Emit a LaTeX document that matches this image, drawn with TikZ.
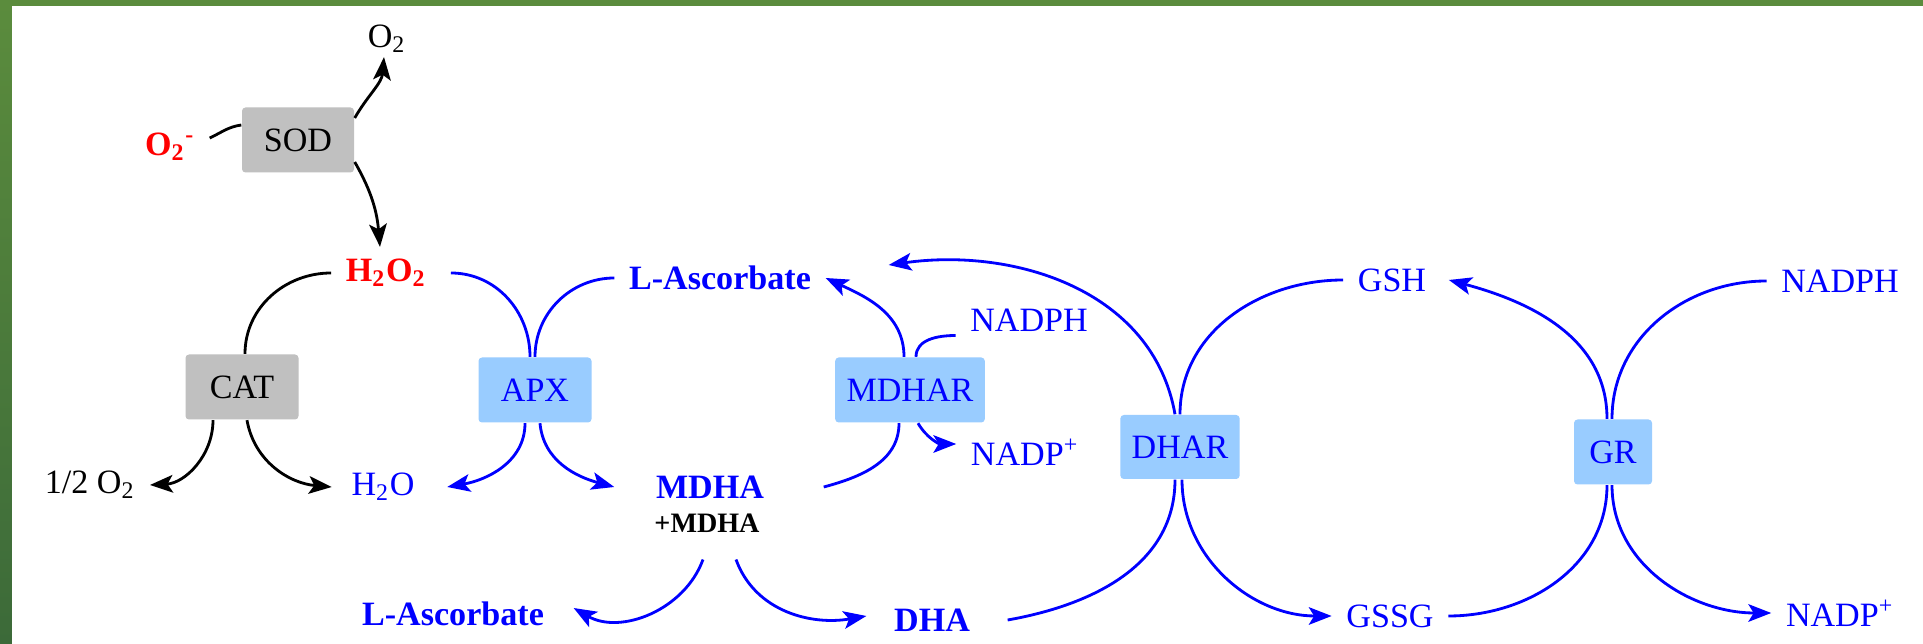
\documentclass[tikz,border=0pt]{standalone}
\usepackage{fontspec}
\setmainfont{Liberation Serif}
\usetikzlibrary{arrows.meta}
\definecolor{leafgreen}{RGB}{91,140,61}
\definecolor{leafdark}{RGB}{60,106,57}
\definecolor{enzblue}{RGB}{153,204,255}
\definecolor{enzgrey}{RGB}{192,192,192}

\begin{document}
\begin{tikzpicture}[
  met/.style={inner xsep=4pt, inner ysep=1pt},
  grbox/.style={fill=enzgrey, rounded corners=1pt, minimum width=1.12cm, minimum height=0.65cm, text=black},
  blbox/.style={fill=enzblue, rounded corners=1pt, minimum height=0.65cm, text=blue},
  rx/.style={line width=0.8pt},
  prod/.style={rx, -{Stealth[length=6.5pt,width=5pt,inset=1.5pt]}},
]
\fontsize{9.7}{11.6}\selectfont
\fill[white] (0,0) rectangle (19.23,6.44);
\useasboundingbox (0,0) rectangle (19.23,6.44);
% frame
\fill[leafgreen] (0,6.38) rectangle (19.23,6.44);
\shade[top color=leafgreen, bottom color=leafdark] (0,0) rectangle (0.12,6.44);

% enzymes
\node[grbox] (sod) at (2.98,5.04) {SOD};
\node[grbox,minimum width=1.13cm] (cat) at (2.42,2.57) {CAT};
\node[blbox,minimum width=1.13cm] (apx) at (5.35,2.54) {APX};
\node[blbox,minimum width=1.49cm] (mdhar) at (9.10,2.54) {MDHAR};
\node[blbox,minimum width=1.13cm,minimum height=0.64cm] (dhar) at (11.80,1.97) {DHAR};
\node[blbox,minimum width=0.78cm] (gr) at (16.13,1.92) {GR};

% metabolites
\node[met] (o2top) at (3.87,6.05) {O\textsubscript{2}};
\node[met,text=red,font=\bfseries] (o2m) at (1.70,4.97) {O\textsubscript{2}\textsuperscript{-}};
\node[met,text=red,font=\bfseries] (h2o2) at (3.86,3.71) {H\textsubscript{2}O\textsubscript{2}};
\node[met] (halfo2) at (0.90,1.59) {1/2 O\textsubscript{2}};
\node[met,text=blue] (h2o) at (3.83,1.57) {H\textsubscript{2}O};
\node[met,text=blue,font=\bfseries] (asc) at (7.20,3.66) {L-Ascorbate};
\node[met,text=blue,font=\bfseries] (mdha) at (7.10,1.57) {MDHA};
\node[met,font=\fontsize{8}{9.6}\selectfont\bfseries] (mdhb) at (7.07,1.21) {+MDHA};
\node[met,text=blue,font=\bfseries] (ascb) at (4.53,0.30) {L-Ascorbate};
\node[met,text=blue,font=\bfseries] (dha) at (9.32,0.24) {DHA};
\node[met,text=blue] (nadph) at (10.29,3.24) {NADPH};
\node[met,text=blue] (nadp) at (10.25,1.92) {NADP\textsuperscript{+}};
\node[met,text=blue] (gsh) at (13.92,3.64) {GSH};
\node[met,text=blue] (gssg) at (13.90,0.28) {GSSG};
\node[met,text=blue] (nadphr) at (18.40,3.63) {NADPH};
\node[met,text=blue] (nadpr) at (18.40,0.31) {NADP\textsuperscript{+}};
\coordinate (ascin) at ([xshift=0.63cm,yshift=0.13cm]asc.east);

% SOD
\draw[rx] ([yshift=0.09cm]o2m.east) to[out=25,in=188] ([yshift=0.15cm]sod.west);
\draw[prod] ([yshift=0.22cm]sod.east) to[out=60,in=-95] ([xshift=-0.03cm]o2top.south);
\draw[prod] ([yshift=-0.22cm]sod.east) to[out=-60,in=95] ([xshift=-0.06cm,yshift=0.08cm]h2o2.north);

% CAT
\draw[rx] (h2o2.west) to[out=180,in=90] ([xshift=0.03cm]cat.north);
\draw[prod] ([xshift=-0.29cm]cat.south) to[out=-90,in=3] (halfo2.east);
\draw[prod] ([xshift=0.05cm]cat.south) to[out=-80,in=175] ([xshift=-0.05cm]h2o.west);

% APX
\draw[blue,rx] ([xshift=0.1cm]h2o2.east) to[out=0,in=90] ([xshift=-0.05cm]apx.north);
\draw[blue,rx] (asc.west) to[out=180,in=90] (apx.north);
\draw[blue,prod] ([xshift=-0.1cm]apx.south) to[out=-90,in=10] ([xshift=0.18cm]h2o.east);
\draw[blue,prod] ([xshift=0.05cm]apx.south) to[out=-85,in=165] ([xshift=-0.27cm]mdha.west);

% MDHAR
\draw[blue,rx] ([xshift=0.45cm]mdha.east) to[out=15,in=-90] ([xshift=-0.11cm]mdhar.south);
\draw[blue,prod] ([xshift=-0.06cm]mdhar.north) to[out=90,in=-25] (asc.east);
\draw[blue,rx] (nadph.south west) to[out=180,in=90] ([xshift=0.06cm]mdhar.north);
\draw[blue,prod] ([xshift=0.08cm]mdhar.south) to[out=-60,in=180] ([yshift=0.08cm]nadp.west);

% MDHA disproportionation
\draw[blue,prod] ([xshift=-0.04cm,yshift=-0.23cm]mdhb.south) to[out=-110,in=-30] ([xshift=0.15cm,yshift=0.06cm]ascb.east);
\draw[blue,prod] ([xshift=0.29cm,yshift=-0.23cm]mdhb.south) to[out=-70,in=190] ([xshift=-0.13cm,yshift=0.04cm]dha.west);

% DHAR
\draw[blue,rx] ([xshift=0.23cm]dha.east) to[out=10,in=-90] ([xshift=-0.05cm]dhar.south);
\draw[blue,prod] ([xshift=-0.05cm]dhar.north) to[out=100,in=8] (ascin);
\draw[blue,rx] (dhar.north) to[out=90,in=180] (gsh.west);
\draw[blue,prod] ([xshift=0.02cm]dhar.south) to[out=-90,in=180] (gssg.west);

% GR
\draw[blue,rx] (gssg.east) to[out=0,in=-90] ([xshift=-0.06cm]gr.south);
\draw[blue,prod] ([xshift=-0.06cm]gr.north) to[out=90,in=-15] ([xshift=0.08cm]gsh.east);
\draw[blue,rx] (nadphr.west) to[out=180,in=90] ([xshift=-0.01cm]gr.north);
\draw[blue,prod] ([xshift=-0.01cm]gr.south) to[out=-90,in=180] (nadpr.west);
\end{tikzpicture}
\end{document}
